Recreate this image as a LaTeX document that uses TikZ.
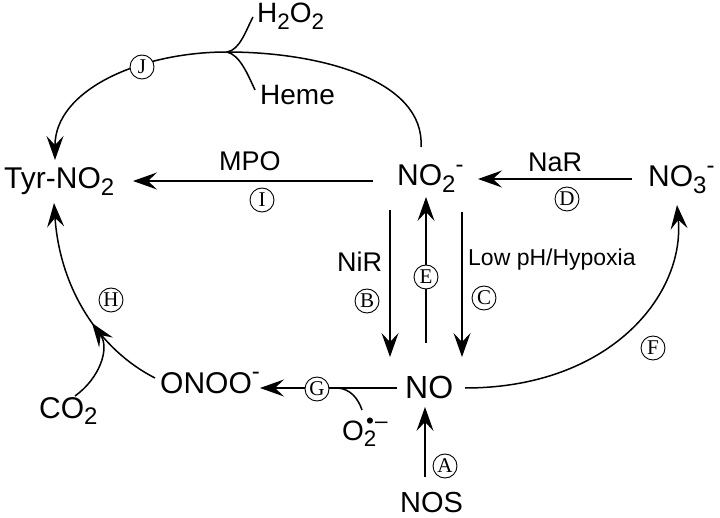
\documentclass[tikz,border=0pt]{standalone}
\usepackage{fontspec}
\usepackage{graphicx}
\setmainfont{Liberation Sans}
\newfontfamily\serifcirc{Liberation Serif}
\usetikzlibrary{arrows.meta}
\tikzset{
  arr/.style={line width=1.5pt,-{Stealth[length=24pt,width=17pt,inset=9pt]}},
  ln/.style={line width=1.5pt},
  spec/.style={anchor=base west,inner sep=0pt,font=\fontsize{30}{30}\selectfont},
  lbl/.style={anchor=base west,inner sep=0pt,font=\fontsize{27}{27}\selectfont},
  circ/.style={circle,draw,line width=0.9pt,fill=white,minimum size=24pt,inner sep=0pt,font=\serifcirc\fontsize{21}{21}\selectfont}
}
\newcommand{\sbs}[1]{\raisebox{-0.22em}{\scalebox{0.8}{#1}}}
\newcommand{\sps}[1]{\raisebox{0.45em}{\scalebox{0.8}{#1}}}
\begin{document}
\begin{tikzpicture}[x=1pt,y=-1pt]
\useasboundingbox (0,0) rectangle (720,518);
% species
\node[spec] (tyr) at (4,189) {Tyr-NO\sbs{2}};
\node[spec] (no2) at (397,186) {NO\sbs{2}\sps{-}};
\node[spec] (no3) at (648,187) {NO\sbs{3}\sps{-}};
\node[spec,font=\fontsize{32}{32}\selectfont] (no) at (405,399) {NO};
\node[spec,font=\fontsize{29}{29}\selectfont] (nos) at (400,512) {NOS};
\node[spec] (onoo) at (160,393) {ONOO\sps{-}};
\node[spec] (co2) at (39,418) {CO\sbs{2}};
\node[spec,font=\fontsize{28}{28}\selectfont] (o2) at (342,440) {O\rlap{\sbs{2}}\raisebox{0.4em}{\scalebox{0.8}{\kern0.1em\textbullet\kern0.05em–}}};
\node[spec,font=\fontsize{28}{28}\selectfont] (h2o2) at (257,23) {H\sbs{2}O\sbs{2}};
\node[spec,font=\fontsize{28}{28}\selectfont] (heme) at (260,105) {Heme};
% labels
\node[lbl] (mpo) at (219,171) {MPO};
\node[lbl] (nar) at (528,172) {NaR};
\node[lbl] (nir) at (337,272) {NiR};
\node[lbl,font=\fontsize{23}{23}\selectfont] (lowph) at (468,266) {Low pH/Hypoxia};
% endpoints
\coordinate (iS) at (373,181); \coordinate (iE) at (133,181);
\coordinate (dS) at (632,179); \coordinate (dE) at (478,179);
\coordinate (bS) at (390,210); \coordinate (bE) at (390,357);
\coordinate (eS) at (426,343); \coordinate (eE) at (426,197);
\coordinate (cS) at (462,212); \coordinate (cE) at (462,357);
\coordinate (aS) at (425,477); \coordinate (aE) at (425,407);
\coordinate (gS) at (397,388); \coordinate (gE) at (260,388);
\coordinate (fS) at (465,388); \coordinate (fE) at (677,205);
\coordinate (jS) at (421,147); \coordinate (jM) at (227,52); \coordinate (jE) at (55,160);
\coordinate (hS) at (155,378); \coordinate (hE) at (54,203);
\coordinate (cbS) at (75,396); \coordinate (cbE) at (92,323);
\coordinate (h2S) at (253,17); \coordinate (hmS) at (255,90);
\coordinate (o2S) at (362,410); \coordinate (o2E) at (338,388);
% connectors
\draw[arr] (iS) -- (iE);
\draw[arr] (dS) -- (dE);
\draw[arr] (bS) -- (bE);
\draw[arr] (eS) -- (eE);
\draw[arr] (cS) -- (cE);
\draw[arr] (aS) -- (aE);
\draw[arr] (gS) -- (gE);
\draw[arr] (fS) .. controls (610,388) and (685,295) .. (fE);
\draw[arr] (jS) .. controls (425,80) and (320,52) .. (jM) .. controls (140,52) and (55,90) .. (jE);
\draw[ln] (jM) .. controls (240,50) and (246,30) .. (h2S);
\draw[ln] (jM) .. controls (240,55) and (248,75) .. (hmS);
\draw[arr] (hS) .. controls (100,350) and (60,290) .. (hE);
\draw[arr] (cbS) .. controls (100,378) and (110,348) .. (cbE);
\draw[ln] (o2E) .. controls (350,389) and (358,398) .. (o2S);
% circled letters
\node[circ] (cJ) at (142,67) {J};
\node[circ] (cI) at (262,200) {I};
\node[circ] (cD) at (567,199) {D};
\node[circ] (cB) at (367,301) {B};
\node[circ] (cE) at (426,277) {E};
\node[circ] (cC) at (484,298) {C};
\node[circ] (cF) at (653,348) {F};
\node[circ] (cG) at (317,389) {G};
\node[circ] (cH) at (111,300) {H};
\node[circ] (cA) at (445,466) {A};
\end{tikzpicture}
\end{document}
